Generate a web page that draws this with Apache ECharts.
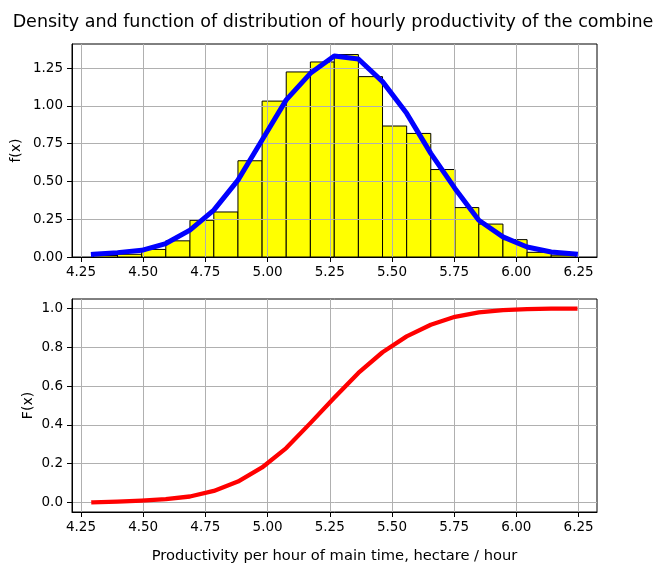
<!DOCTYPE html>
<html><head><meta charset="utf-8">
<script src="https://cdn.jsdelivr.net/npm/echarts@6/dist/echarts.min.js"></script>
<style>html,body{margin:0;padding:0;background:#fff}#c{width:656px;height:565px}</style>
</head><body><div id="c"></div>
<script>
const titleText = 'Density and function of distribution of hourly productivity of the combine';
const xAxisName = 'Productivity per hour of main time, hectare / hour';
const topYName = 'f(x)';
const bottomYName = 'F(x)';

// histogram bin edges (21) and density heights (20)
const binEdges = [4.300, 4.397, 4.494, 4.591, 4.688, 4.784, 4.881, 4.978, 5.075, 5.172, 5.268,
                  5.365, 5.462, 5.559, 5.656, 5.753, 5.849, 5.946, 6.043, 6.140, 6.237];
const binDensity = [0.010, 0.018, 0.050, 0.107, 0.243, 0.298, 0.637, 1.032, 1.225, 1.291,
                    1.340, 1.194, 0.867, 0.818, 0.579, 0.327, 0.218, 0.115, 0.031, 0.012];
// density curve and distribution function values at the bin edges
const pdfValues = [0.018, 0.029, 0.044, 0.089, 0.178, 0.310, 0.509, 0.774, 1.040, 1.216, 1.331,
                   1.311, 1.161, 0.951, 0.686, 0.454, 0.243, 0.133, 0.066, 0.033, 0.020];
const cdfValues = [0.000, 0.004, 0.009, 0.016, 0.030, 0.059, 0.107, 0.180, 0.280, 0.409, 0.540,
                   0.668, 0.775, 0.857, 0.917, 0.958, 0.981, 0.993, 0.998, 1.000, 1.000];

const xTicks = [4.25, 4.50, 4.75, 5.00, 5.25, 5.50, 5.75, 6.00, 6.25];
const yTicksTop = [0.00, 0.25, 0.50, 0.75, 1.00, 1.25];
const yTicksBottom = [0.0, 0.2, 0.4, 0.6, 0.8, 1.0];

const FONT = 'DejaVu Sans';
const histData = binDensity.map((h, i) => [binEdges[i], binEdges[i + 1], h]);
const pdfData = binEdges.map((x, i) => [x, pdfValues[i]]);
const cdfData = binEdges.map((x, i) => [x, cdfValues[i]]);

function xAxisCfg(gridIndex, withName) {
  return {
    type: 'value', gridIndex: gridIndex, min: 4.214, max: 6.324, z: 3,
    name: withName ? xAxisName : '', nameLocation: 'middle', nameGap: 37,
    nameTextStyle: {fontFamily: FONT, fontSize: 14.7, color: '#000'},
    axisLine: {show: true, onZero: false, lineStyle: {color: '#000', width: 1}},
    axisTick: {show: true, length: 5, customValues: xTicks, lineStyle: {color: '#000', width: 1}},
    axisLabel: {show: true, customValues: xTicks, margin: 8, color: '#000', fontFamily: FONT, fontSize: 13.5,
      formatter: v => v.toFixed(2)},
    splitLine: {show: true, lineStyle: {color: '#b0b0b0', width: 1}}
  };
}
function yAxisCfg(gridIndex, min, max, ticks, dec, name, gap) {
  return {
    type: 'value', gridIndex: gridIndex, min: min, max: max, z: 3,
    name: name, nameLocation: 'middle', nameGap: gap, nameRotate: 90, nameMoveOverlap: false,
    nameTextStyle: {fontFamily: FONT, fontSize: 14, color: '#000'},
    axisLine: {show: true, onZero: false, lineStyle: {color: '#000', width: 1}},
    axisTick: {show: true, length: 5, customValues: ticks, lineStyle: {color: '#000', width: 1}},
    axisLabel: {show: true, customValues: ticks, margin: 9, color: '#000', fontFamily: FONT, fontSize: 13.5,
      formatter: v => v.toFixed(dec)},
    splitLine: {show: true, lineStyle: {color: '#b0b0b0', width: 1}}
  };
}

const chart = echarts.init(document.getElementById('c'), null, {renderer: 'canvas'});
chart.setOption({
  animation: false,
  backgroundColor: '#fff',
  title: {
    text: titleText, left: 333, top: 13, padding: 0, textAlign: 'center',
    textStyle: {fontFamily: FONT, fontSize: 17.5, fontWeight: 'normal', color: '#000'}
  },
  grid: [
    {left: 72, top: 44, width: 525, height: 213, show: true, borderColor: '#000', borderWidth: 1, backgroundColor: 'transparent'},
    {left: 72, top: 299, width: 525, height: 213, show: true, borderColor: '#000', borderWidth: 1, backgroundColor: 'transparent'}
  ],
  xAxis: [xAxisCfg(0, false), xAxisCfg(1, true)],
  yAxis: [
    yAxisCfg(0, 0, 1.41, yTicksTop, 2, topYName, 49),
    yAxisCfg(1, -0.05, 1.05, yTicksBottom, 1, bottomYName, 37)
  ],
  series: [
    {
      type: 'custom', xAxisIndex: 0, yAxisIndex: 0, z: 2, data: histData,
      renderItem: function (params, api) {
        const p0 = api.coord([api.value(0), api.value(2)]);
        const p1 = api.coord([api.value(1), 0]);
        return {
          type: 'rect',
          shape: {x: p0[0], y: p0[1], width: p1[0] - p0[0], height: p1[1] - p0[1]},
          style: {fill: '#ffff00', stroke: '#000', lineWidth: 1}
        };
      }
    },
    {
      type: 'line', xAxisIndex: 0, yAxisIndex: 0, z: 5, data: pdfData, showSymbol: false, smooth: false,
      lineStyle: {color: '#0000ff', width: 5, cap: 'square', join: 'round'}
    },
    {
      type: 'line', xAxisIndex: 1, yAxisIndex: 1, z: 5, data: cdfData, showSymbol: false, smooth: false,
      lineStyle: {color: '#ff0000', width: 4.3, cap: 'square', join: 'round'}
    }
  ]
});
</script></body></html>
